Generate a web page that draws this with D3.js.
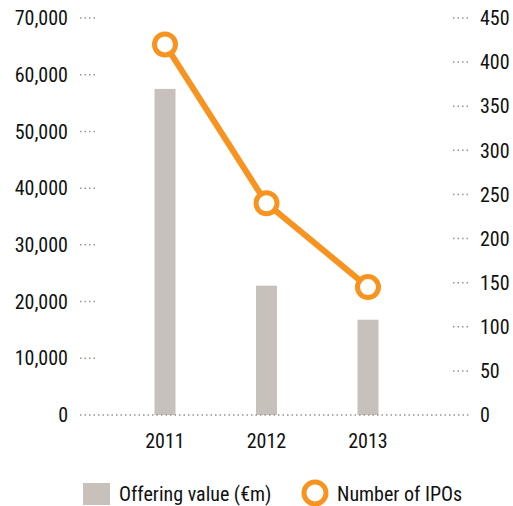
<html>
<head>
<script src="https://d3js.org/d3.v7.min.js"></script>
<style>
  body { margin: 0; background: #fff; }
  text { font-family: "Liberation Sans Narrow", "Arial Narrow", "Roboto Condensed", "Liberation Sans", sans-serif; fill: #111; }
</style>
</head>
<body>
<div id="chart"></div>
<script>
const years = ["2011", "2012", "2013"];
const offeringValue = [57500, 22800, 16800];
const numberOfIPOs = [420, 240, 145];
const leftTicks = [0, 10000, 20000, 30000, 40000, 50000, 60000, 70000];
const rightTicks = [0, 50, 100, 150, 200, 250, 300, 350, 400, 450];
const legendLabels = ["Offering value (\u20acm)", "Number of IPOs"];

const W = 513, H = 506;
const svg = d3.select("#chart").append("svg").attr("width", W).attr("height", H);

const plotTop = 18, plotBottom = 415;
const fs = "20px";
const x = d3.scalePoint().domain(years).range([165, 368]);
const yL = d3.scaleLinear().domain([0, 70000]).range([plotBottom, plotTop]);
const yR = d3.scaleLinear().domain([0, 450]).range([plotBottom, plotTop]);
const dotCol = "#9e928a";

// left ticks
leftTicks.forEach(t => {
  if (t > 0) {
    svg.append("line").attr("x1", 80).attr("x2", 98).attr("y1", yL(t)).attr("y2", yL(t))
      .attr("stroke", dotCol).attr("stroke-width", 1.5).attr("stroke-dasharray", "1.5,3");
  }
  svg.append("text").attr("x", 68).attr("y", yL(t)).attr("dy", "0.36em")
    .attr("text-anchor", "end").style("font-size", fs).text(d3.format(",")(t));
});

// right ticks
rightTicks.forEach(t => {
  if (t > 0) {
    svg.append("line").attr("x1", 453).attr("x2", 471).attr("y1", yR(t)).attr("y2", yR(t))
      .attr("stroke", dotCol).attr("stroke-width", 1.5).attr("stroke-dasharray", "1.5,3");
  }
  svg.append("text").attr("x", 480).attr("y", yR(t)).attr("dy", "0.36em")
    .attr("text-anchor", "start").style("font-size", fs).text(t);
});

// bars
const bw = 21;
svg.selectAll(".bar").data(years).enter().append("rect")
  .attr("x", d => x(d) - bw / 2)
  .attr("width", bw)
  .attr("y", (d, i) => yL(offeringValue[i]))
  .attr("height", (d, i) => plotBottom - yL(offeringValue[i]))
  .attr("fill", "#c8c1bb");

// zero line
svg.append("line").attr("x1", 80).attr("x2", 470).attr("y1", plotBottom).attr("y2", plotBottom)
  .attr("stroke", dotCol).attr("stroke-width", 1.5).attr("stroke-dasharray", "1.5,3");

// x labels
years.forEach(yr => {
  svg.append("text").attr("x", x(yr)).attr("y", 448).attr("text-anchor", "middle")
    .style("font-size", fs).text(yr);
});

// line
const orange = "#f7931e";
const pts = years.map((yr, i) => [x(yr), yR(numberOfIPOs[i])]);
svg.append("path").attr("d", d3.line()(pts)).attr("fill", "none")
  .attr("stroke", orange).attr("stroke-width", 6);
svg.selectAll(".pt").data(pts).enter().append("circle")
  .attr("cx", d => d[0]).attr("cy", d => d[1]).attr("r", 10.5)
  .attr("fill", "#fff").attr("stroke", orange).attr("stroke-width", 5);

// legend
svg.append("rect").attr("x", 83).attr("y", 483).attr("width", 27).attr("height", 22).attr("fill", "#c8c1bb");
svg.append("text").attr("x", 119).attr("y", 501).style("font-size", fs).text(legendLabels[0]);
svg.append("circle").attr("cx", 315).attr("cy", 493).attr("r", 11)
  .attr("fill", "#fff").attr("stroke", orange).attr("stroke-width", 5);
svg.append("text").attr("x", 337).attr("y", 501).style("font-size", fs).text(legendLabels[1]);
</script>
</body>
</html>
